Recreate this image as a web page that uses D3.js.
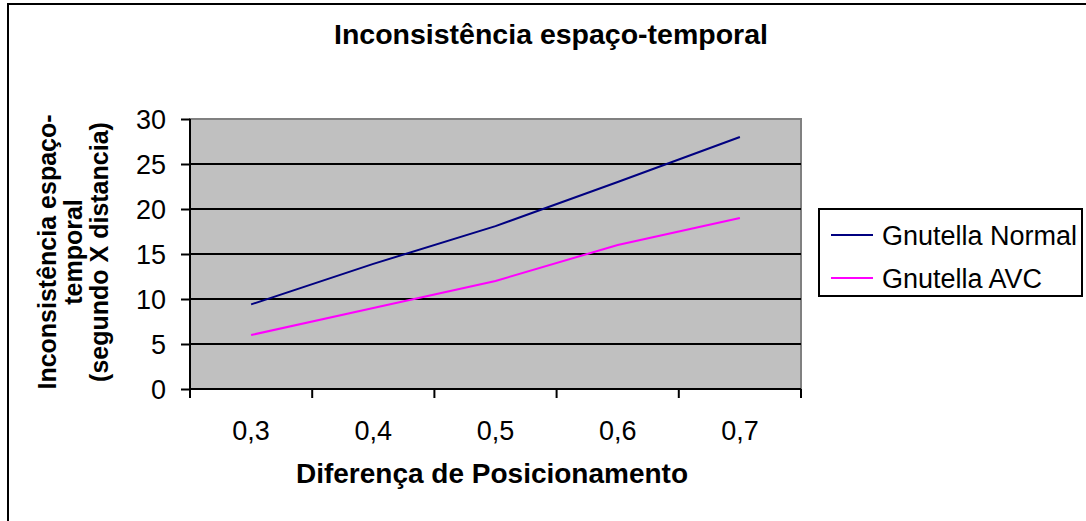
<!DOCTYPE html>
<html><head><meta charset="utf-8">
<script src="https://cdn.jsdelivr.net/npm/d3@7"></script>
<style>
html,body{margin:0;padding:0;background:#fff;}
svg{display:block;font-family:"Liberation Sans",Arial,sans-serif;}
</style></head>
<body>
<svg id="c" width="1086" height="521"></svg>
<script>
const categories = ["0,3","0,4","0,5","0,6","0,7"];
const normalValues = [9.4, 13.9, 18.1, 23.0, 28.0];
const avcValues = [6.0, 9.0, 12.0, 16.0, 19.0];
const yTicks = [0,5,10,15,20,25,30];
const seriesNames = ["Gnutella Normal","Gnutella AVC"];
const seriesColors = ["#000080","#FF00FF"];

const svg = d3.select("#c");
// outer border
svg.append("rect").attr("x",8).attr("y",4).attr("width",1100).attr("height",540)
  .attr("fill","#fff").attr("stroke","#000").attr("stroke-width",2);

const L=190, R=801, T=119, B=389;
const x = d3.scaleBand().domain(categories).range([L,R]);
const y = d3.scaleLinear().domain([0,30]).range([B,T]);

svg.append("rect").attr("x",L).attr("y",T).attr("width",R-L).attr("height",B-T)
  .attr("fill","#C0C0C0").attr("stroke","#808080").attr("stroke-width",2);

// gridlines
svg.append("g").selectAll("line").data(yTicks.filter(d=>d>0&&d<30)).join("line")
  .attr("x1",L).attr("x2",R).attr("y1",d=>y(d)).attr("y2",d=>y(d))
  .attr("stroke","#000").attr("stroke-width",2);

// y axis
const ya = svg.append("g").attr("transform",`translate(${L},0)`)
  .call(d3.axisLeft(y).tickValues(yTicks).tickSize(9).tickPadding(15).tickFormat(d3.format("d")));
ya.select(".domain").attr("stroke","#000").attr("stroke-width",2).attr("d",`M0,${T}V${B}`);
ya.selectAll(".tick line").attr("stroke","#000").attr("stroke-width",2);
ya.selectAll(".tick text").attr("font-size",27).attr("fill","#000").attr("font-family","Liberation Sans, Arial").attr("dy","0.36em");

// x axis
const xa = svg.append("g").attr("transform",`translate(0,${B})`)
  .call(d3.axisBottom(x).tickSize(0).tickPadding(32));
xa.select(".domain").attr("stroke","#000").attr("stroke-width",2).attr("d",`M${L},0H${R}`);
xa.selectAll(".tick text").attr("font-size",27).attr("fill","#000").attr("font-family","Liberation Sans, Arial");
// category boundary ticks
const bounds = categories.map(c=>x(c)).concat([R]);
svg.append("g").selectAll("line").data(bounds).join("line")
  .attr("x1",d=>d).attr("x2",d=>d).attr("y1",B).attr("y2",B+9)
  .attr("stroke","#000").attr("stroke-width",2);

// lines
const line = d3.line().x((d,i)=>x(categories[i])+x.bandwidth()/2).y(d=>y(d));
[normalValues, avcValues].forEach((vals,k)=>{
  svg.append("path").datum(vals).attr("d",line).attr("fill","none")
    .attr("stroke",seriesColors[k]).attr("stroke-width",2);
});

// title
svg.append("text").attr("x",551).attr("y",44).attr("text-anchor","middle")
  .attr("font-size",28.5).attr("font-weight","bold").text("Inconsistência espaço-temporal");

// x axis title
svg.append("text").attr("x",492).attr("y",483).attr("text-anchor","middle")
  .attr("font-size",28).attr("font-weight","bold").text("Diferença de Posicionamento");

// y axis title
const yt = svg.append("text").attr("transform","translate(0,252) rotate(-90)")
  .attr("text-anchor","middle").attr("font-size",25).attr("font-weight","bold");
yt.append("tspan").attr("x",0).attr("y",56).text("Inconsistência espaço-");
yt.append("tspan").attr("x",0).attr("y",82).text("temporal");
yt.append("tspan").attr("x",0).attr("y",108).text("(segundo X distancia)");

// legend
svg.append("rect").attr("x",819).attr("y",209).attr("width",263).attr("height",87)
  .attr("fill","#fff").attr("stroke","#000").attr("stroke-width",2);
const lg = svg.append("g").selectAll("g").data(seriesNames).join("g")
  .attr("transform",(d,i)=>`translate(0,${235+i*43})`);
lg.append("line").attr("x1",831).attr("x2",873).attr("y1",0).attr("y2",0)
  .attr("stroke",(d,i)=>seriesColors[i]).attr("stroke-width",2);
lg.append("text").attr("x",882).attr("y",10).attr("font-size",27).text(d=>d);
</script>
</body></html>
